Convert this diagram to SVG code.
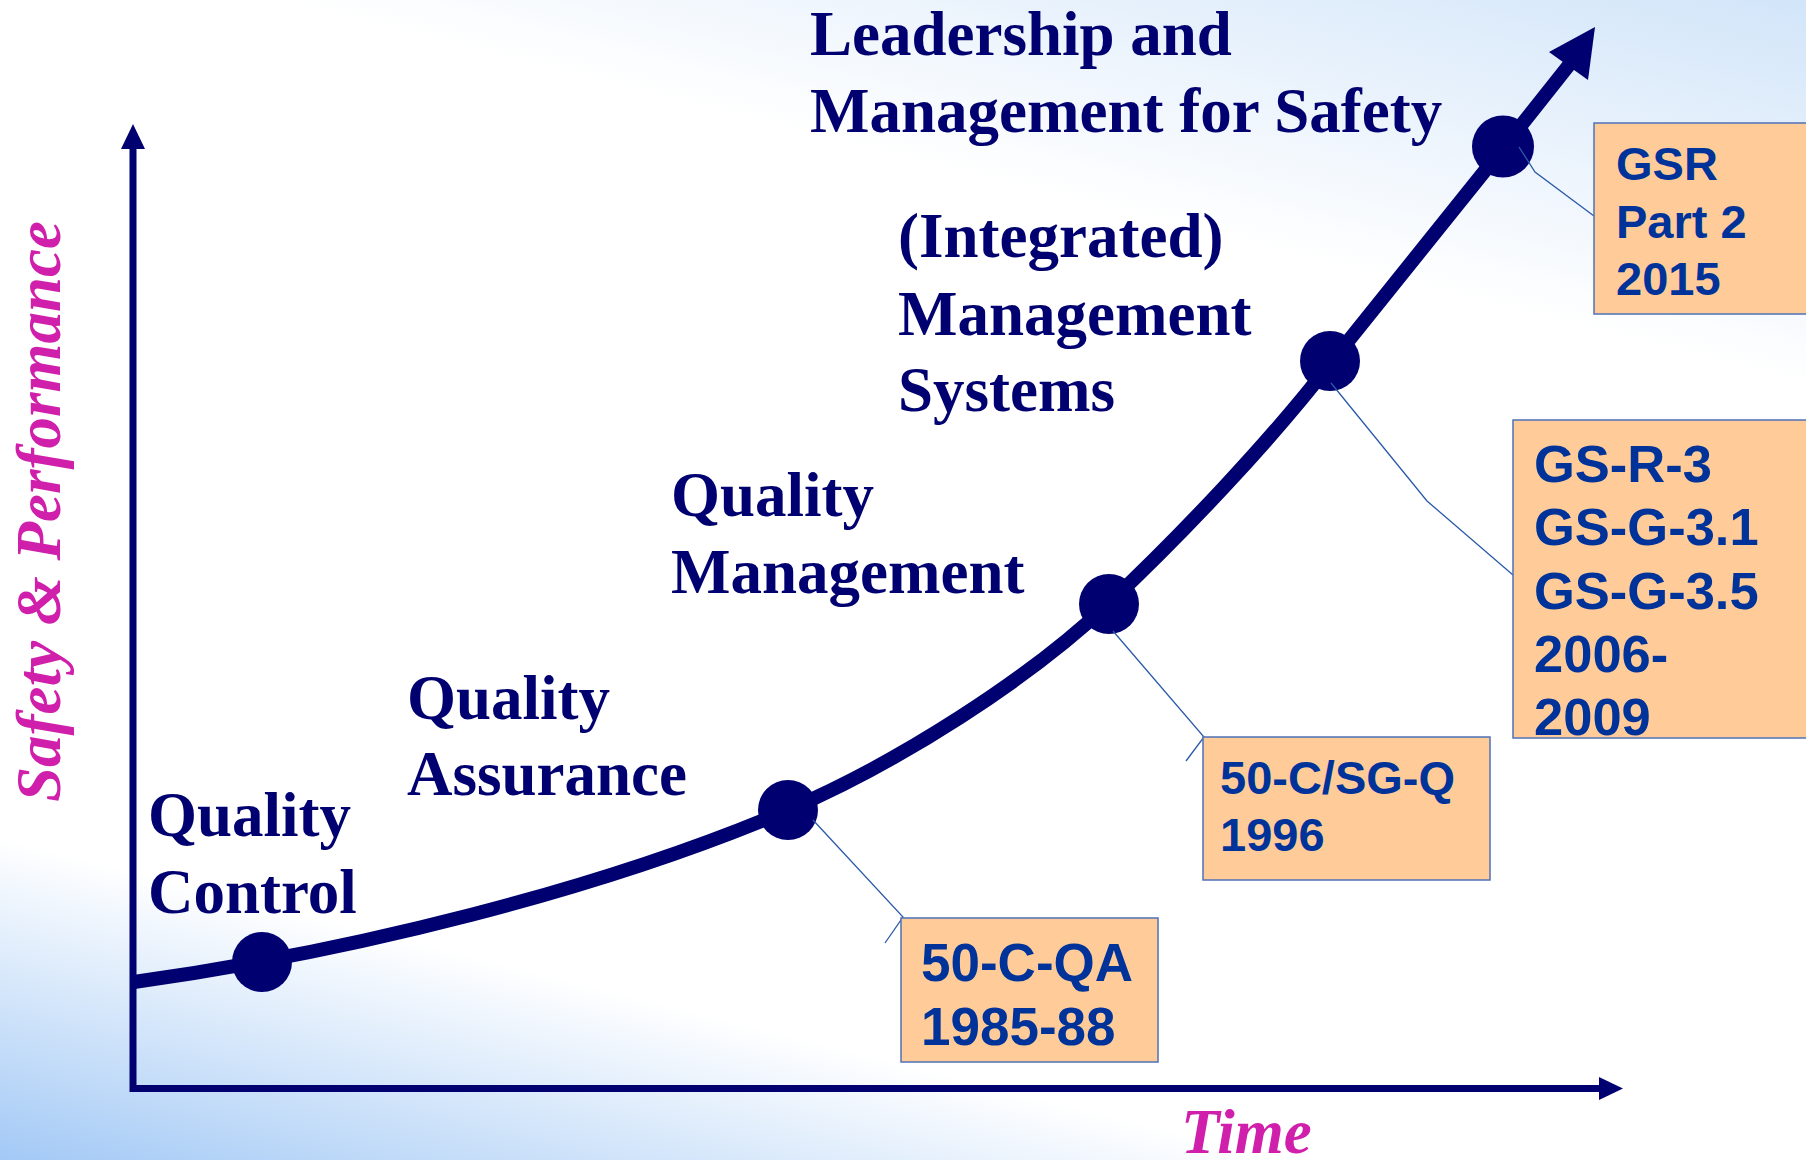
<svg xmlns="http://www.w3.org/2000/svg" width="1806" height="1160" viewBox="0 0 1806 1160">
<defs>
<linearGradient id="bg" gradientUnits="userSpaceOnUse" x1="0" y1="1160" x2="380" y2="-357">
<stop offset="0" stop-color="#a3c9f6"/>
<stop offset="0.08" stop-color="#c8dff9"/>
<stop offset="0.2" stop-color="#ffffff"/>
<stop offset="0.76" stop-color="#ffffff"/>
<stop offset="1" stop-color="#d2e5f9"/>
</linearGradient>
<style>
.lbl{font-family:"Liberation Serif","Times New Roman",serif;font-weight:bold;font-size:63px;fill:#000070}
.ax{font-family:"Liberation Serif","Times New Roman",serif;font-weight:bold;font-style:italic;font-size:63px;fill:#cf1fab}
.box{fill:#ffcc99;stroke:#4f72b8;stroke-width:1.5}
.bt{font-family:"Liberation Sans",Arial,sans-serif;font-weight:bold;fill:#003399}
.call{fill:none;stroke:#2a5aa8;stroke-width:1.3}
.navy{fill:#000070}
</style>
</defs>
<rect x="0" y="0" width="1806" height="1160" fill="url(#bg)"/>

<g id="axes">
<line x1="133" y1="1092" x2="133" y2="146" stroke="#000070" stroke-width="7"/>
<polygon class="navy" points="133,124 121,149 145,149"/>
<line x1="130" y1="1088.5" x2="1602" y2="1088.5" stroke="#000070" stroke-width="7"/>
<polygon class="navy" points="1623,1088.5 1599,1077 1599,1100"/>
<text class="ax" transform="translate(60,802) rotate(-90)">Safety &amp; Performance</text>
<text class="ax" x="1181" y="1153" font-size="62">Time</text>
</g>

<g id="connectors">
<path d="M134,982 C350,952 600,890 788,810 C900,762 1030,678 1108,604 C1180,536 1270,442 1333,360 L1504,147 L1569,65" fill="none" stroke="#000070" stroke-width="14" stroke-linejoin="round"/>
<polygon class="navy" points="1595,27 1549,52 1588,80"/>
</g>

<g id="dots">
<circle class="navy" cx="262" cy="962" r="30"/>
<circle class="navy" cx="788" cy="810" r="30"/>
<circle class="navy" cx="1109" cy="604" r="30"/>
<circle class="navy" cx="1330" cy="361" r="30"/>
<circle class="navy" cx="1503" cy="146.5" r="31"/>
</g>

<g id="callouts">
<polyline class="call" points="813,820 903,917 885,943"/>
<polyline class="call" points="1113,631 1204,737 1186,761"/>
<polyline class="call" points="1331,383 1427,501 1513,575"/>
<polyline class="call" points="1519,147 1535,172 1594,216"/>
</g>

<g id="label-qc"><text class="lbl" x="148" y="836">Quality</text><text class="lbl" x="148" y="913">Control</text></g>
<g id="label-qa"><text class="lbl" x="407" y="719">Quality</text><text class="lbl" x="407" y="795">Assurance</text></g>
<g id="label-qm"><text class="lbl" x="671" y="516">Quality</text><text class="lbl" x="671" y="593">Management</text></g>
<g id="label-ims"><text class="lbl" x="898" y="257">(Integrated)</text><text class="lbl" x="898" y="335">Management</text><text class="lbl" x="898" y="411">Systems</text></g>
<g id="label-lms"><text class="lbl" x="810" y="55">Leadership and</text><text class="lbl" x="810" y="132">Management for Safety</text></g>

<g id="box-50cqa">
<rect class="box" x="901" y="918" width="257" height="144"/>
<text class="bt" font-size="53" x="921" y="981">50-C-QA</text>
<text class="bt" font-size="53" x="921" y="1045">1985-88</text>
</g>
<g id="box-50csgq">
<rect class="box" x="1203" y="737" width="287" height="143"/>
<text class="bt" font-size="47" x="1220" y="794">50-C/SG-Q</text>
<text class="bt" font-size="47" x="1220" y="851">1996</text>
</g>
<g id="box-gsr3">
<rect class="box" x="1513" y="420" width="300" height="318"/>
<text class="bt" font-size="52.5" x="1534" y="482">GS-R-3</text>
<text class="bt" font-size="52.5" x="1534" y="545">GS-G-3.1</text>
<text class="bt" font-size="52.5" x="1534" y="609">GS-G-3.5</text>
<text class="bt" font-size="52.5" x="1534" y="672">2006-</text>
<text class="bt" font-size="52.5" x="1534" y="735">2009</text>
</g>
<g id="box-gsr2">
<rect class="box" x="1594" y="123" width="220" height="191"/>
<text class="bt" font-size="47" x="1616" y="180">GSR</text>
<text class="bt" font-size="47" x="1616" y="238">Part 2</text>
<text class="bt" font-size="47" x="1616" y="295">2015</text>
</g>
</svg>
